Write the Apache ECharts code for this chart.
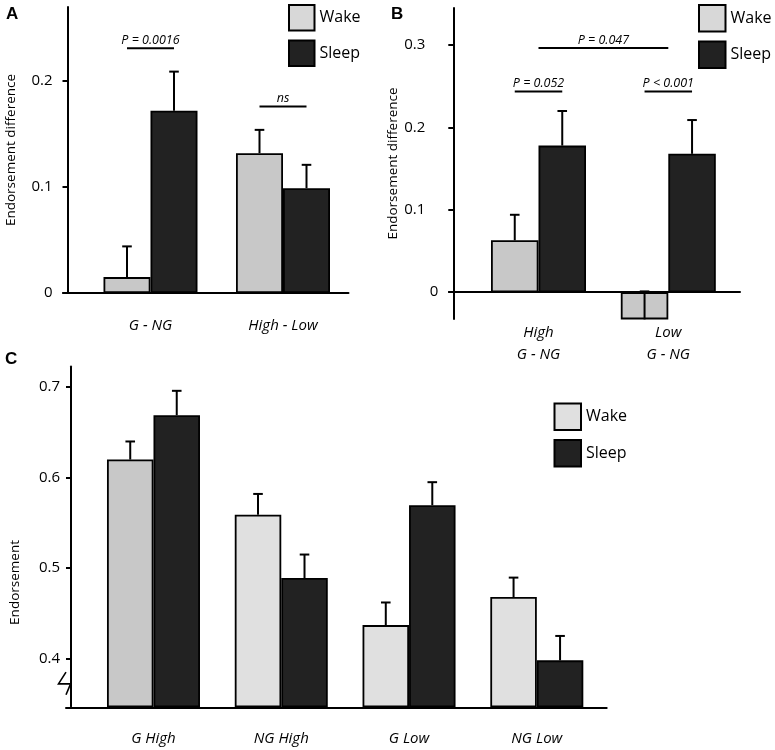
<!DOCTYPE html>
<html><head><meta charset="utf-8">
<script src="https://cdn.jsdelivr.net/npm/echarts@6/dist/echarts.min.js"></script>
<style>html,body{margin:0;padding:0;background:#fff}#c{width:775px;height:750px}</style>
</head><body><div id="c"></div>
<script>
// ---------- Panel A ----------
const catsA = ['G - NG', 'High - Low'];
const wakeA = [0.015, 0.132];
const wakeSemA = [0.029, 0.022];
const sleepA = [0.172, 0.099];
const sleepSemA = [0.037, 0.022];
const ticksA = [0, 0.1, 0.2];
// [category from, bar from (-1 wake, 0 group, 1 sleep), category to, bar to, y value]
const sigPosA = [[0, -1, 0, 1, 0.231], [1, -1, 1, 1, 0.176]];
const sigTextA = ['P = 0.0016', 'ns'];

// ---------- Panel B ----------
const catsB = ['High\nG - NG', 'Low\nG - NG'];
const wakeB = [0.063, -0.033];
const wakeSemB = [0.031, 0.034];
const sleepB = [0.178, 0.168];
const sleepSemB = [0.042, 0.041];
const ticksB = [0, 0.1, 0.2, 0.3];
const sigPosB = [[0, -1, 0, 1, 0.2437], [1, -1, 1, 1, 0.2437], [0, 0, 1, 0, 0.2965]];
const sigTextB = ['P = 0.052', 'P < 0.001', 'P = 0.047'];

// ---------- Panel C ----------
const catsC = ['G High', 'NG High', 'G Low', 'NG Low'];
const wakeC = [0.620, 0.559, 0.437, 0.468];
const wakeSemC = [0.020, 0.023, 0.025, 0.0215];
const sleepC = [0.669, 0.489, 0.5695, 0.398];
const sleepSemC = [0.027, 0.026, 0.0255, 0.027];
const ticksC = [0.4, 0.5, 0.6, 0.7];

const FONT = "'Open Sans', 'Noto Sans', sans-serif";
const WAKE = '#c8c8c8', WAKE_LIGHT = '#e0e0e0', SLEEP = '#222222';

// layout (pixels)
const L = {
  A: {left: 84.25, top: 7, width: 265, height: 286, off: 16.75, min: 0, max: 0.27, bw: 47, lineLeft: 63, lineW: 285.5},
  B: {left: 473.6, top: 8, width: 259.6, height: 311, off: 20.3, min: -0.0325, max: 0.345, bw: 47.5, lineLeft: 449, lineW: 291},
  C: {left: 84.6, top: 366.4, width: 516.1, height: 341.3, off: 18.6, min: 0.347, max: 0.723, bw: 46.5, lineLeft: 66, lineW: 540.7}
};
const keys = ['A', 'B', 'C'];

const grids = [];
keys.forEach(k => grids.push({left: L[k].left, top: L[k].top, width: L[k].width, height: L[k].height}));
keys.forEach(k => grids.push({left: L[k].lineLeft, top: L[k].top, width: L[k].lineW, height: L[k].height}));

const axisLine = {show: true, lineStyle: {color: '#000', width: 2}};
const cats = [catsA, catsB, catsC];
const catMargins = [22, 3, 21.5];
const xAxes = cats.map((c, i) => ({
  type: 'category', gridIndex: i, data: c,
  axisLine: {show: false, onZero: false}, axisTick: {show: false},
  axisLabel: {color: '#000', fontFamily: FONT, fontSize: 15, fontStyle: 'italic', margin: catMargins[i], lineHeight: 22, interval: 0}
}));
keys.forEach((k, i) => xAxes.push({
  type: 'value', gridIndex: 3 + i, min: 0, max: 1,
  axisLine: {show: true, onZero: true, lineStyle: {color: '#000', width: 2}},
  axisTick: {show: false}, axisLabel: {show: false}, splitLine: {show: false}
}));

const ticks = [ticksA, ticksB, ticksC];
const names = ['Endorsement difference', 'Endorsement difference', 'Endorsement'];
const nameGaps = [49, 50, 49];
const labelMargins = [15, 15, 11];
const yAxes = keys.map((k, i) => ({
  type: 'value', gridIndex: i, min: L[k].min, max: L[k].max, offset: L[k].off,
  axisLine: axisLine, splitLine: {show: false},
  axisTick: {show: true, length: 5, lineStyle: {color: '#000', width: 2}, customValues: ticks[i]},
  axisLabel: {
    color: '#000', fontFamily: FONT, fontSize: 15, margin: labelMargins[i], customValues: ticks[i],
    formatter: i === 1 ? (v => v === 0 ? '{z|0}' : '{n|' + v + '}') : (v => String(v)),
    rich: i === 1 ? {z: {fontFamily: FONT, fontSize: 15, color: '#000'}, n: {fontFamily: FONT, fontSize: 15, color: '#000', padding: [0, 13, 0, 0]}} : undefined
  },
  name: names[i], nameLocation: 'middle', nameGap: nameGaps[i],
  nameTextStyle: {color: '#000', fontFamily: FONT, fontSize: 13.5, padding: i === 2 ? [0, 92, 0, 0] : 0}
}));
keys.forEach((k, i) => yAxes.push({
  type: 'value', gridIndex: 3 + i, min: L[k].min, max: L[k].max, show: false
}));

function barSeries(i, name, data, color) {
  return {
    type: 'bar', name: name, xAxisIndex: i, yAxisIndex: i, data: data,
    barWidth: L[keys[i]].bw, barGap: '0%', z: 2, silent: true,
    itemStyle: {color: color, borderColor: '#000', borderWidth: 1.8}
  };
}
function errSeries(i, vals, sems, side) {
  const bw = L[keys[i]].bw;
  return {
    type: 'custom', xAxisIndex: i, yAxisIndex: i, z: 5, silent: true,
    data: vals.map((v, j) => [j, v, v + sems[j]]),
    encode: {x: 0, y: [1, 2]},
    renderItem(params, api) {
      const p0 = api.coord([api.value(0), api.value(1)]);
      const p1 = api.coord([api.value(0), api.value(2)]);
      const x = p0[0] + side * bw / 2;
      return {type: 'group', children: [
        {type: 'line', shape: {x1: x, y1: p0[1], x2: x, y2: p1[1]}, style: {stroke: '#000', lineWidth: 2}},
        {type: 'line', shape: {x1: x - 4.8, y1: p1[1], x2: x + 4.8, y2: p1[1]}, style: {stroke: '#000', lineWidth: 2}}
      ]};
    }
  };
}
function sigSeries(i, pos, texts) {
  const bw = L[keys[i]].bw;
  return {
    type: 'custom', xAxisIndex: i, yAxisIndex: i, z: 6, silent: true,
    data: pos, encode: {x: 0, y: 4},
    renderItem(params, api) {
      const y = api.value(4);
      const a = api.coord([api.value(0), y]);
      const b = api.coord([api.value(2), y]);
      const x1 = a[0] + api.value(1) * bw / 2;
      const x2 = b[0] + api.value(3) * bw / 2;
      return {type: 'group', children: [
        {type: 'line', shape: {x1: x1, y1: a[1], x2: x2, y2: a[1]}, style: {stroke: '#000', lineWidth: 2}},
        {type: 'text', style: {x: (x1 + x2) / 2, y: a[1] - 1.5, text: texts[params.dataIndex], align: 'center', verticalAlign: 'bottom',
          font: 'italic 12.5px ' + FONT, fill: '#000'}}
      ]};
    }
  };
}

const series = [
  barSeries(0, 'Wake', wakeA, WAKE), barSeries(0, 'Sleep', sleepA, SLEEP),
  errSeries(0, wakeA, wakeSemA, -1), errSeries(0, sleepA, sleepSemA, 1),
  sigSeries(0, sigPosA, sigTextA),
  barSeries(1, 'Wake', wakeB, WAKE), barSeries(1, 'Sleep', sleepB, SLEEP),
  errSeries(1, wakeB, wakeSemB, -1), errSeries(1, sleepB, sleepSemB, 1),
  sigSeries(1, sigPosB, sigTextB),
  barSeries(2, 'Wake', wakeC.map((v, j) => j === 0 ? {value: v, itemStyle: {color: WAKE}} : v), WAKE_LIGHT),
  barSeries(2, 'Sleep', sleepC, SLEEP),
  errSeries(2, wakeC, wakeSemC, -1), errSeries(2, sleepC, sleepSemC, 1)
];

function legend(left, top, size, wakeColor) {
  return {
    left: left, top: top, orient: 'vertical', padding: 0, itemWidth: size, itemHeight: size, itemGap: 8,
    icon: 'rect', selectedMode: false,
    itemStyle: {borderColor: '#000', borderWidth: 2},
    textStyle: {color: '#000', fontFamily: FONT, fontSize: 16},
    data: [{name: 'Wake', itemStyle: {color: wakeColor, borderColor: '#000', borderWidth: 2}},
           {name: 'Sleep', itemStyle: {color: SLEEP, borderColor: '#000', borderWidth: 2}}]
  };
}

const option = {
  animation: false,
  backgroundColor: '#fff',
  grid: grids,
  xAxis: xAxes,
  yAxis: yAxes,
  legend: [legend(288, 4, 25.5, '#d8d8d8'), legend(698, 4, 26.5, '#d8d8d8'), legend(553.5, 402.5, 26.5, WAKE_LIGHT)],
  series: series
};

const chart = echarts.init(document.getElementById('c'), null, {renderer: 'canvas'});
chart.setOption(option);

// panel letters and axis-break glyph on panel C's y axis
const ax = L.C.left - L.C.off;
const yb1 = chart.convertToPixel({yAxisIndex: 2}, 0.385);
const yb2 = chart.convertToPixel({yAxisIndex: 2}, 0.372);
const yb3 = chart.convertToPixel({yAxisIndex: 2}, 0.360);
const LETTER_FONT = 'bold 17px "Liberation Sans", Arial, sans-serif';
chart.setOption({graphic: [
  {id: 'tA', type: 'text', x: 6, y: 6, style: {text: 'A', font: LETTER_FONT, fill: '#000'}},
  {id: 'tB', type: 'text', x: 391, y: 6, style: {text: 'B', font: LETTER_FONT, fill: '#000'}},
  {id: 'tC', type: 'text', x: 5, y: 351, style: {text: 'C', font: LETTER_FONT, fill: '#000'}},
  {id: 'brkMask', type: 'rect', shape: {x: ax - 2, y: yb1 + 1, width: 4, height: yb3 - yb1 - 2}, style: {fill: '#fff'}, z: 100},
  {id: 'brk1', type: 'polyline', shape: {points: [[ax, yb1], [ax - 7.5, yb2], [ax + 6, yb2]]}, style: {stroke: '#000', lineWidth: 1.6, fill: null}, z: 101},
  {id: 'brk2', type: 'line', shape: {x1: ax + 5, y1: yb2 - 1, x2: ax, y2: yb3}, style: {stroke: '#000', lineWidth: 1.6}, z: 101}
]});
</script>
</body></html>
